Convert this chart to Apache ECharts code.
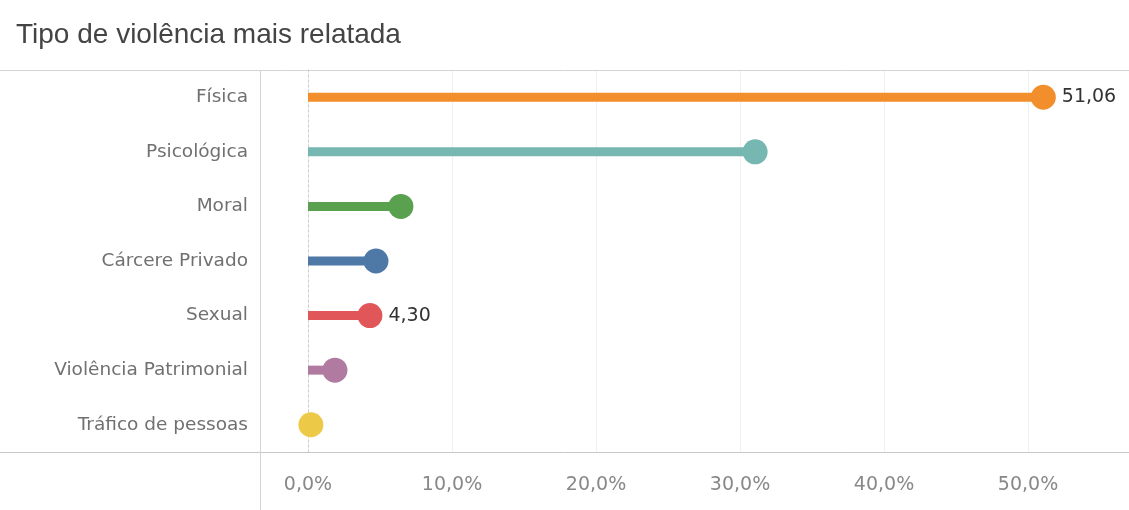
<!DOCTYPE html>
<html><head><meta charset="utf-8">
<script src="https://cdn.jsdelivr.net/npm/echarts@6/dist/echarts.min.js"></script>
<style>html,body{margin:0;padding:0;background:#fff}#c{width:1129px;height:510px}</style>
</head><body><div id="c"></div>
<script>
const title = 'Tipo de violência mais relatada';
const categories = ['Física','Psicológica','Moral','Cárcere Privado','Sexual','Violência Patrimonial','Tráfico de pessoas'];
const values = [51.06, 31.05, 6.45, 4.72, 4.30, 1.87, 0.20];
const labeled = ['Física','Sexual'];
const xTicks = [0, 10, 20, 30, 40, 50];
const palette = ['#f28e2b','#76b7b2','#59a14f','#4e79a7','#e15759','#b07aa1','#edc948'];

const fmt = v => v.toFixed(2).replace('.', ',');
const chart = echarts.init(document.getElementById('c'));
chart.setOption({
  animation: false,
  title: { text: title, left: 11, top: 16, textStyle: { fontFamily: 'Liberation Sans, Arial', fontSize: 28, fontWeight: 'normal', color: '#444' } },
  grid: { left: 308, right: 0, top: 70, bottom: 58 },
  xAxis: {
    type: 'value', min: 0, max: 57.01, interval: 10,
    axisLine: { show: false }, axisTick: { show: false },
    splitLine: { show: true, lineStyle: { color: '#f0f0f0', width: 1 } },
    axisLabel: { showMaxLabel: false, margin: 24, fontFamily: 'DejaVu Sans', fontSize: 19, color: '#888',
      formatter: v => xTicks.includes(v) ? v.toFixed(1).replace('.', ',') + '%' : '' }
  },
  yAxis: {
    type: 'category', inverse: true, data: categories,
    axisTick: { show: false },
    axisLine: { show: true, lineStyle: { color: '#ccc', type: [2, 3], width: 1 } },
    axisLabel: { margin: 60, fontFamily: 'DejaVu Sans', fontSize: 18.5, color: '#707070' }
  },
  graphic: [
    { type: 'line', shape: { x1: 0, y1: 70.5, x2: 1129, y2: 70.5 }, style: { stroke: '#d4d4d4', lineWidth: 1 }, z: 100 },
    { type: 'line', shape: { x1: 0, y1: 452.5, x2: 1129, y2: 452.5 }, style: { stroke: '#c8c8c8', lineWidth: 1 }, z: 100 },
    { type: 'line', shape: { x1: 260.5, y1: 70, x2: 260.5, y2: 510 }, style: { stroke: '#d4d4d4', lineWidth: 1 }, z: 100 }
  ],
  series: [
    { type: 'bar', barWidth: 9, silent: true,
      data: values.map((v, i) => ({ value: v, itemStyle: { color: palette[i] } })) },
    { type: 'scatter', symbolSize: 25, clip: false, z: 3,
      data: values.map((v, i) => ({
        value: [v, categories[i]], itemStyle: { color: palette[i], opacity: 1 },
        label: { show: labeled.includes(categories[i]), position: 'right', distance: 6,
          formatter: () => fmt(v), fontFamily: 'DejaVu Sans', fontSize: 19, color: '#333' }
      })) }
  ]
});
</script></body></html>
